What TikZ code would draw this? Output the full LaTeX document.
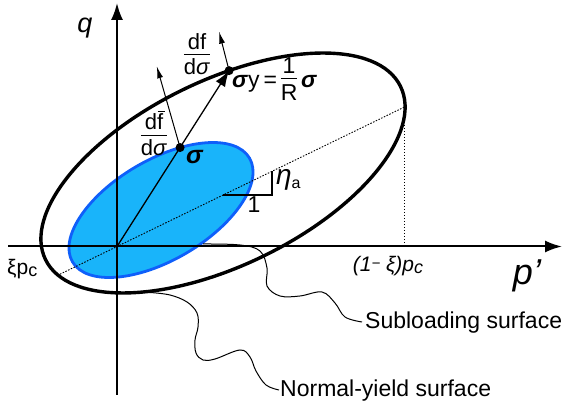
\documentclass[tikz,border=0pt]{standalone}
\usepackage{fontspec}
\setmainfont{Liberation Sans}
\usetikzlibrary{arrows.meta,intersections}
\definecolor{subfill}{RGB}{25,180,250}
\definecolor{subedge}{RGB}{15,95,250}
\newcommand{\fs}[1]{\fontsize{#1}{#1}\selectfont}
\newcommand{\myfrac}[2]{{\setlength{\arrayrulewidth}{1.2pt}\renewcommand{\arraystretch}{0.85}\begin{tabular}{@{}c@{}}#1\\[-1pt]\hline\rule{0pt}{0.9em}#2\end{tabular}}}
\newcommand{\fbar}{\leavevmode\rlap{\hspace{0.02em}\raisebox{0.8em}{\rule{0.32em}{0.07em}}}f}
\begin{document}
\begin{tikzpicture}[x=1pt,y=1pt,
  axis/.style={line width=2pt,-{Latex[length=17pt,width=12pt]}},
  yieldline/.style={line width=3.4pt},
  subsurf/.style={fill=subfill,draw=subedge,line width=2.8pt},
  guide/.style={line width=0.9pt,dash pattern=on 1.5pt off 1.5pt},
  normalarrow/.style={line width=1pt,-{Latex[length=12pt,width=6pt]}},
  rayarrow/.style={line width=1.3pt,-{Latex[length=16pt,width=11pt]}},
  leader/.style={line width=1pt},
  dot/.style={circle,fill=black,inner sep=0pt,minimum size=9pt},
  lab/.style={inner sep=0pt}]
\useasboundingbox (0,0) rectangle (565,409);
\coordinate (O) at (117,162.5);
\coordinate (bigc) at (223,236);
\coordinate (subc) at (161,199);
% subloading surface
\draw[subsurf,name path=sub,rotate around={30.4:(subc)}] (subc) ellipse [x radius=102.6,y radius=50];
% axes
\coordinate (xs) at (8,162.5); \coordinate (xe) at (562,162.5);
\coordinate (ys) at (117,14); \coordinate (ye) at (117,406);
\draw[axis] (xs) -- (xe);
\draw[axis] (ys) -- (ye);
% normal-yield surface
\draw[yieldline,name path=big,rotate around={26:(bigc)}] (bigc) ellipse [x radius=197.5,y radius=92.4];
% dotted guides
\coordinate (L) at (60,134.8); \coordinate (R) at (404.5,302); \coordinate (Rx) at (404.5,162.5);
\draw[guide] (L) -- (R);
\draw[guide] (R) -- (Rx);
% slope triangle
\coordinate (t1) at (223,214); \coordinate (t2) at (272,214); \coordinate (t3) at (272,237.8);
\draw[line width=1.3pt] (t1) -- (t2) -- (t3);
% stress ray
\path[name path=ray] (O) -- ++(130,204);
\path[name intersections={of=ray and sub,by=sig}];
\path[name intersections={of=ray and big,by=sigy}];
\draw[rayarrow] (O) -- (sigy);
\draw[normalarrow] (sig) -- ++(-23.3,81.3) coordinate (nsub);
\draw[normalarrow] (sigy) -- ++(-10,39) coordinate (nbig);
\node[dot] (sigdot) at (sig) {};
\node[dot] (sigydot) at (sigy) {};
% leaders
\coordinate (subfoot) at (203,165);
\coordinate (subend) at (362,87);
\draw[leader] plot[smooth,tension=0.6] coordinates {(subfoot) (240,164) (260,158) (267,141) (267,123) (280,113) (300,113) (322,117) (335,106) (345,92) (subend)};
\coordinate (nyfoot) at (150,116.5);
\coordinate (nyend) at (279,19);
\draw[leader] plot[smooth,tension=0.6] coordinates {(nyfoot) (170,114) (187,107) (197,96) (198,82) (195,69) (196,56) (203,49) (215,50) (240,59) (250,52) (256,38) (266,24) (nyend)};
% labels
\node[lab] (qlab) at (85,381) {\fs{27}\itshape q};
\node[lab] (plab) at (527,133) {\fs{36}\itshape p'};
\node[lab,anchor=west] (xilab) at (7,140) {\fs{21}ξp\raisebox{-2pt}{\fs{18}c}};
\node[lab] (onexilab) at (388,143) {\fs{21}\itshape (1\raisebox{3pt}{\fs{15}−} ξ)p\raisebox{-2pt}{\fs{18}c}};
\node[lab,anchor=west] (siglab) at (186,252) {\fs{25}\bfseries\itshape σ};
\node[lab,anchor=base west] (sigylab) at (232,321) {\fs{23}\textbf{\textit{σ}}y\,=\,\myfrac{1}{R}\,\textbf{\textit{σ}}};
\node[lab] (dfbig) at (197,352) {\fs{22}\myfrac{df}{d\textit{σ}}};
\node[lab] (dfsub) at (154,273) {\fs{22}\myfrac{d\fbar}{d\textit{σ}}};
\node[lab,anchor=west] (etalab) at (276,229) {\fs{28}\textit{η}\raisebox{-4pt}{\fs{16}a}};
\node[lab] (onelab) at (254,204) {\fs{23}1};
\node[lab,anchor=base west] (subname) at (365,80) {\fs{23}Subloading surface};
\node[lab,anchor=base west] (nyname) at (280,12) {\fs{23}Normal-yield surface};
\end{tikzpicture}
\end{document}
